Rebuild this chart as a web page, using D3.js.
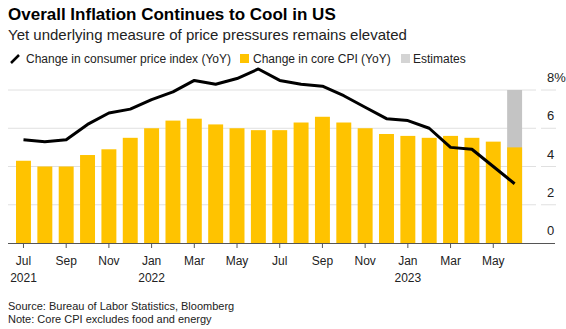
<!DOCTYPE html>
<html>
<head>
<meta charset="utf-8">
<script src="https://cdn.jsdelivr.net/npm/d3@7"></script>
<style>
  body { margin: 0; background: #fff; }
  svg { display: block; font-family: "Liberation Sans", Arial, sans-serif; }
</style>
</head>
<body>
<svg id="chart"></svg>
<script>
const width = 566;
const height = 329;

// data
const months = ["Jul 2021", "Aug 2021", "Sep 2021", "Oct 2021", "Nov 2021", "Dec 2021",
  "Jan 2022", "Feb 2022", "Mar 2022", "Apr 2022", "May 2022", "Jun 2022",
  "Jul 2022", "Aug 2022", "Sep 2022", "Oct 2022", "Nov 2022", "Dec 2022",
  "Jan 2023", "Feb 2023", "Mar 2023", "Apr 2023", "May 2023", "Jun 2023"];
const coreCpi = [4.3, 4.0, 4.0, 4.6, 4.9, 5.5, 6.0, 6.4, 6.5, 6.2, 6.0, 5.9,
  5.9, 6.3, 6.6, 6.3, 6.0, 5.7, 5.6, 5.5, 5.6, 5.5, 5.3, 5.0];
const cpi = [5.4, 5.3, 5.4, 6.2, 6.8, 7.0, 7.5, 7.9, 8.5, 8.3, 8.6, 9.1,
  8.5, 8.3, 8.2, 7.7, 7.1, 6.5, 6.4, 6.0, 5.0, 4.9, 4.0, 3.1];
const estimateMonths = ["Jun 2023"];
const estimateTop = 8;
const yTicks = [0, 2, 4, 6, 8];
const tickMonths = ["Jul 2021", "Sep 2021", "Nov 2021", "Jan 2022", "Mar 2022", "May 2022",
  "Jul 2022", "Sep 2022", "Nov 2022", "Jan 2023", "Mar 2023", "May 2023"];
const yearLabels = { "Jul 2021": "2021", "Jan 2022": "2022", "Jan 2023": "2023" };

const yellow = "#ffc300";
const grey = "#c4c4c4";

const svg = d3.select("#chart")
    .attr("width", width)
    .attr("height", height);

const x = d3.scaleBand()
    .domain(months)
    .range([9.6, 528.5])
    .paddingInner(0.3)
    .paddingOuter(0.3);

const y = d3.scaleLinear()
    .domain([0, 8])
    .range([243, 90]);

// title + subtitle
svg.append("text")
    .attr("x", 8).attr("y", 20)
    .attr("font-size", 17).attr("font-weight", "bold")
    .attr("fill", "#000")
    .text("Overall Inflation Continues to Cool in US");

svg.append("text")
    .attr("x", 8).attr("y", 40)
    .attr("font-size", 15).attr("fill", "#222")
    .text("Yet underlying measure of price pressures remains elevated");

// legend
const legend = svg.append("g").attr("font-size", 12).attr("fill", "#222");
legend.append("line")
    .attr("x1", 11).attr("y1", 63).attr("x2", 19).attr("y2", 55)
    .attr("stroke", "#000").attr("stroke-width", 2.5);
legend.append("text").attr("x", 26).attr("y", 63).text("Change in consumer price index (YoY)");
legend.append("rect").attr("x", 240).attr("y", 54).attr("width", 9).attr("height", 9).attr("fill", yellow);
legend.append("text").attr("x", 253).attr("y", 63).text("Change in core CPI (YoY)");
legend.append("rect").attr("x", 401).attr("y", 54).attr("width", 9).attr("height", 9).attr("fill", "#d4d4d4");
legend.append("text").attr("x", 413).attr("y", 63).text("Estimates");

// gridlines
const grid = svg.append("g");
yTicks.filter(d => d > 0).forEach(d => {
  grid.append("line")
      .attr("x1", 8).attr("x2", 536)
      .attr("y1", y(d)).attr("y2", y(d))
      .attr("stroke", "#e0e0e0").attr("stroke-width", 1);
  grid.append("line")
      .attr("x1", 541).attr("x2", 556)
      .attr("y1", y(d)).attr("y2", y(d))
      .attr("stroke", "#e0e0e0").attr("stroke-width", 1);
});

// y labels
svg.append("g")
    .selectAll("text")
    .data(yTicks)
    .enter()
    .append("text")
    .attr("x", 547)
    .attr("y", d => y(d) - 8)
    .attr("font-size", 13)
    .attr("fill", "#222")
    .text(d => d === 8 ? d + "%" : d);

// estimate columns
svg.selectAll(".est")
    .data(estimateMonths)
    .enter()
    .append("rect")
    .attr("class", "est")
    .attr("x", d => x(d))
    .attr("y", y(estimateTop))
    .attr("width", x.bandwidth())
    .attr("height", y(0) - y(estimateTop))
    .attr("fill", grey);

// core bars
svg.selectAll(".bar")
    .data(months)
    .enter()
    .append("rect")
    .attr("class", "bar")
    .attr("x", d => x(d))
    .attr("y", (d, i) => y(coreCpi[i]))
    .attr("width", x.bandwidth())
    .attr("height", (d, i) => y(0) - y(coreCpi[i]))
    .attr("fill", yellow);

// baseline
svg.append("line")
    .attr("x1", 8).attr("x2", 555)
    .attr("y1", y(0) + 0.5).attr("y2", y(0) + 0.5)
    .attr("stroke", "#555").attr("stroke-width", 1);

// x ticks
const xt = svg.append("g");
tickMonths.forEach(m => {
  const cx = x(m) + x.bandwidth() / 2;
  xt.append("line")
      .attr("x1", cx).attr("x2", cx)
      .attr("y1", 244).attr("y2", 248)
      .attr("stroke", "#555");
  xt.append("text")
      .attr("x", cx).attr("y", 265)
      .attr("text-anchor", "middle")
      .attr("font-size", 12).attr("fill", "#222")
      .text(m.split(" ")[0]);
  if (yearLabels[m]) {
    xt.append("text")
        .attr("x", cx).attr("y", 282)
        .attr("text-anchor", "middle")
        .attr("font-size", 12).attr("fill", "#222")
        .text(yearLabels[m]);
  }
});

// cpi line
const line = d3.line()
    .x((d, i) => x(months[i]) + x.bandwidth() / 2)
    .y(d => y(d));

svg.append("path")
    .datum(cpi)
    .attr("d", line)
    .attr("fill", "none")
    .attr("stroke", "#000")
    .attr("stroke-width", 3)
    .attr("stroke-linejoin", "round");

// footnotes
svg.append("text")
    .attr("x", 8).attr("y", 310)
    .attr("font-size", 11).attr("fill", "#222")
    .text("Source: Bureau of Labor Statistics, Bloomberg");
svg.append("text")
    .attr("x", 8).attr("y", 323)
    .attr("font-size", 11).attr("fill", "#222")
    .text("Note: Core CPI excludes food and energy");
</script>
</body>
</html>
